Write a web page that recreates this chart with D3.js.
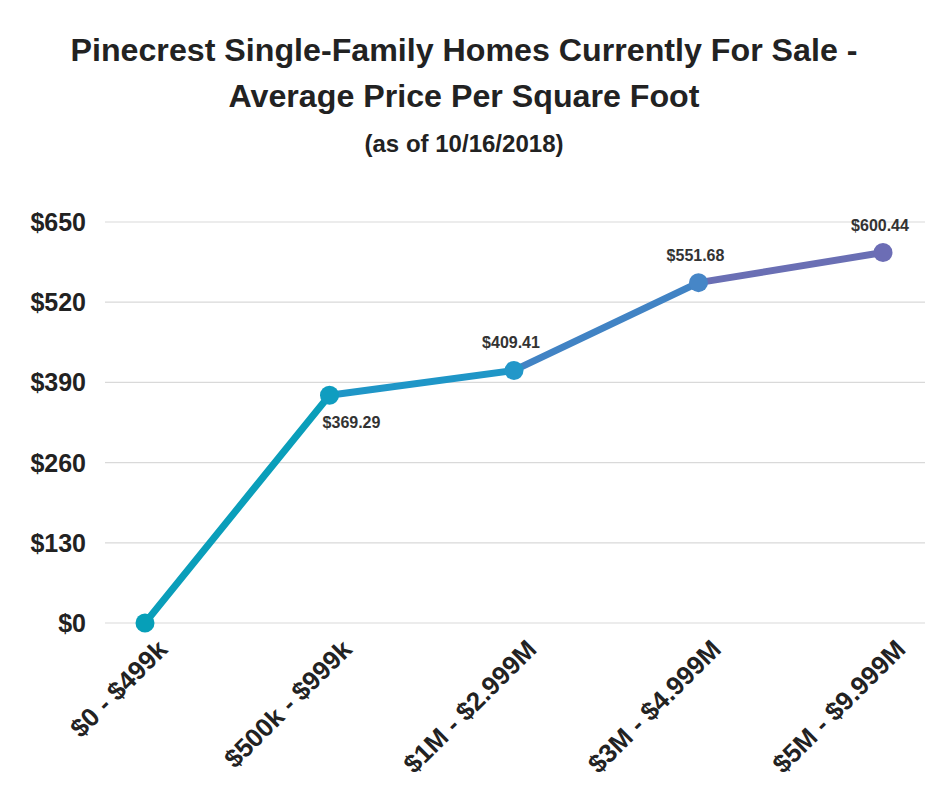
<!DOCTYPE html>
<html>
<head>
<meta charset="utf-8">
<script src="https://cdn.jsdelivr.net/npm/d3@7"></script>
<style>
  body { margin: 0; background: #fff; }
  text { font-family: "Liberation Sans", Arial, sans-serif; font-weight: bold; fill: #222; }
</style>
</head>
<body>
<div id="chart"></div>
<script>
// price ranges and average price per sq ft
var categories = ["$0 - $499k", "$500k - $999k", "$1M - $2.999M", "$3M - $4.999M", "$5M - $9.999M"];
var values = [0, 369.29, 409.41, 551.68, 600.44];
var valueLabels = ["", "$369.29", "$409.41", "$551.68", "$600.44"];
var yTicks = [0, 130, 260, 390, 520, 650];

var pointColors = ["#069fb8", "#0f9dc0", "#2297c9", "#4686c7", "#6c6db5"];
var segColors = ["#0a9eba", "#1f96c7", "#4183c4", "#6a6fb4"];

var width = 940, height = 788;

var svg = d3.select("#chart").append("svg")
  .attr("width", width)
  .attr("height", height);

// titles
function title(txt, y, size, len) {
  svg.append("text")
    .attr("x", width / 2 - 6)
    .attr("y", y)
    .attr("text-anchor", "middle")
    .style("font-size", size + "px")
    .attr("textLength", len)
    .attr("lengthAdjust", "spacingAndGlyphs")
    .text(txt);
}
title("Pinecrest Single-Family Homes Currently For Sale -", 61, 31, 787);
title("Average Price Per Square Foot", 107, 31, 471);
title("(as of 10/16/2018)", 152, 24, 199);

var x = d3.scalePoint()
  .domain(categories)
  .range([145, 883]);

var y = d3.scaleLinear()
  .domain([0, 650])
  .range([623, 222]);

// gridlines
svg.append("g")
  .selectAll("line")
  .data(yTicks)
  .enter().append("line")
  .attr("x1", 105)
  .attr("x2", 925)
  .attr("y1", function(d) { return y(d); })
  .attr("y2", function(d) { return y(d); })
  .attr("stroke", "#d9d9d9")
  .attr("stroke-width", 1.2);

// y axis labels
svg.append("g")
  .selectAll("text")
  .data(yTicks)
  .enter().append("text")
  .attr("x", 86)
  .attr("y", function(d) { return y(d); })
  .attr("dy", "0.36em")
  .attr("text-anchor", "end")
  .style("font-size", "25px")
  .text(function(d) { return "$" + d; });

// x axis labels
svg.append("g")
  .selectAll("text")
  .data(categories)
  .enter().append("text")
  .attr("text-anchor", "end")
  .attr("transform", function(d) { return "translate(" + (x(d) + 24) + ",651)rotate(-45)"; })
  .style("font-size", "26px")
  .text(function(d) { return d; });

// line segments
var segs = d3.range(values.length - 1);
svg.append("g")
  .selectAll("line")
  .data(segs)
  .enter().append("line")
  .attr("x1", function(i) { return x(categories[i]); })
  .attr("y1", function(i) { return y(values[i]); })
  .attr("x2", function(i) { return x(categories[i + 1]); })
  .attr("y2", function(i) { return y(values[i + 1]); })
  .attr("stroke", function(i) { return segColors[i]; })
  .attr("stroke-width", 7)
  .attr("stroke-linecap", "round");

// points
svg.append("g")
  .selectAll("circle")
  .data(values)
  .enter().append("circle")
  .attr("cx", function(d, i) { return x(categories[i]); })
  .attr("cy", function(d) { return y(d); })
  .attr("r", 9.5)
  .attr("fill", function(d, i) { return pointColors[i]; });

// value labels
svg.append("g")
  .selectAll("text")
  .data(values)
  .enter().append("text")
  .attr("x", function(d, i) { return x(categories[i]) + (i == 1 ? 22 : -3); })
  .attr("y", function(d, i) { return y(d) + (i == 1 ? 33 : -22); })
  .attr("text-anchor", "middle")
  .style("font-size", "16px")
  .style("fill", "#333")
  .text(function(d, i) { return valueLabels[i]; });
</script>
</body>
</html>
